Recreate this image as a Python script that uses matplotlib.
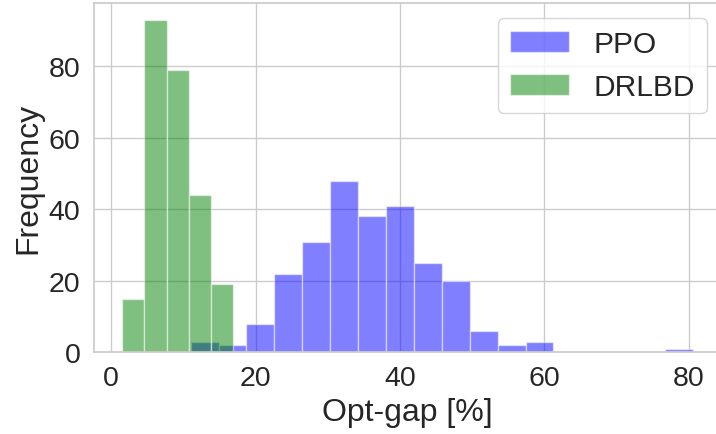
import matplotlib
matplotlib.use("Agg")
import matplotlib.pyplot as plt
import numpy as np
import seaborn as sns

# Opt-gap histogram counts (250 instances per method)
ppo_counts = [3, 2, 8, 22, 31, 48, 38, 41, 25, 20, 6, 2, 3, 0, 0, 0, 0, 1]
ppo_range = (11.0, 80.6)
drlbd_counts = [15, 93, 79, 44, 19]
drlbd_range = (1.5, 16.9)

sns.set_theme(style="whitegrid")
plt.rcParams["font.family"] = ["Liberation Sans", "DejaVu Sans"]


def draw_hist(ax, counts, value_range, color, label):
    edges = np.linspace(value_range[0], value_range[1], len(counts) + 1)
    centers = 0.5 * (edges[:-1] + edges[1:])
    ax.hist(centers, bins=edges, weights=counts, color=color, alpha=0.5,
            edgecolor="white", linewidth=1, label=label)


fig = plt.figure(figsize=(7.16, 4.35), dpi=100)
ax = fig.add_axes([93.5 / 716, 81.7 / 435, 628 / 716, 349 / 435])

draw_hist(ax, ppo_counts, ppo_range, "blue", "PPO")
draw_hist(ax, drlbd_counts, drlbd_range, "green", "DRLBD")

ax.set_xticks([0, 20, 40, 60, 80])
ax.set_yticks([0, 20, 40, 60, 80])
ax.tick_params(labelsize=20.5)
ax.set_xlabel("Opt-gap [%]", fontsize=23)
ax.set_ylabel("Frequency", fontsize=23)
ax.legend(loc="upper right", fontsize=21.5)

fig.savefig("out.png", dpi=100)
